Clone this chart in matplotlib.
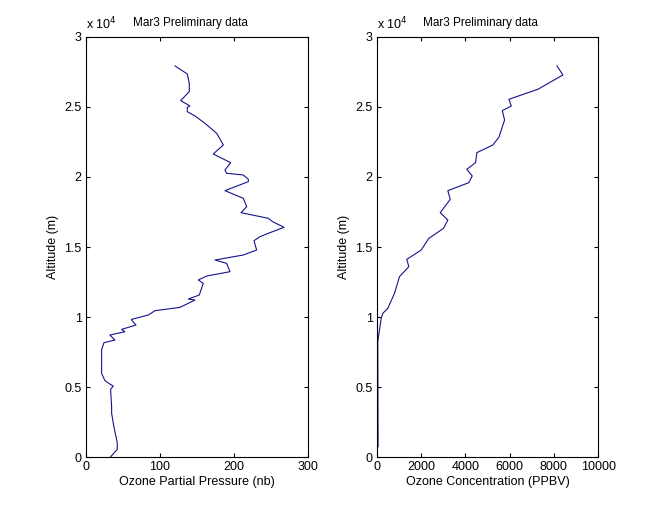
import numpy as np
import matplotlib
matplotlib.use('Agg')
import matplotlib.pyplot as plt

# Sounding data (altitude in m)
pp_alt = [27930, 27357, 26690, 26095, 25452, 25071, 24976, 24666, 24357, 23833,
          23119, 22286, 21643, 21021, 20500, 20264, 20143, 19833, 19667, 19024,
          18476, 17881, 17452, 17048, 16809, 16405, 16024, 15738, 15452, 14786,
          14429, 14071, 13833, 13238, 12929, 12643, 12405, 11571, 11286, 11214,
          10690, 10452, 10143, 9833, 9786, 9429, 9119, 8952, 8714, 8357,
          8166, 7643, 5976, 5452, 5214, 5071, 4833, 3595, 3119, 2167,
          1024, 548, 20]
pp_val = [120.3, 136.9, 139.6, 139.6, 128.0, 140.5, 136.9, 136.9, 147.3, 160.8,
          176.6, 185.6, 172.0, 195.5, 187.8, 190.0, 212.6, 219.4, 219.4, 187.8,
          212.6, 217.2, 209.5, 246.4, 252.2, 267.6, 248.6, 235.1, 227.0, 230.6,
          212.6, 174.3, 190.0, 194.6, 163.1, 151.8, 158.5, 153.1, 138.3, 147.3,
          127.0, 93.2, 84.2, 61.7, 61.7, 67.6, 48.2, 52.7, 32.4, 39.2,
          24.3, 21.2, 21.2, 25.7, 32.4, 36.9, 33.3, 34.7, 34.7, 37.8,
          42.3, 42.3, 33.3]

conc_alt = [27930, 27286, 26262, 25548, 25071, 24738, 24071, 22833, 22286, 21738,
            21021, 20550, 20071, 19595, 19024, 18405, 17452, 16929, 16333, 15619,
            14786, 14119, 13595, 12881, 11690, 10619, 10262, 9905, 8238, 738]
conc_val = [8136, 8407, 7277, 5966, 6075, 5668, 5772, 5514, 5243, 4520,
            4461, 4068, 4312, 4158, 3209, 3318, 2866, 3209, 3015, 2350,
            2007, 1356, 1446, 1026, 800, 497, 271, 199, 45, 60]

yticks = [0, 5000, 10000, 15000, 20000, 25000, 30000]
ytick_labels = ['0', '0.5', '1', '1.5', '2', '2.5', '3']

plt.rcParams['font.family'] = ['Liberation Sans', 'DejaVu Sans']
plt.rcParams['font.size'] = 9

fig = plt.figure(figsize=(6.61, 5.13), dpi=100)
ax1 = fig.add_axes([0.130, 0.109, 0.336, 0.819])
ax2 = fig.add_axes([0.570, 0.109, 0.335, 0.819])

line_color = '#14148c'

panels = [
	(ax1, pp_val, pp_alt, [0, 300], [0, 100, 200, 300], 'Ozone Partial Pressure (nb)'),
	(ax2, conc_val, conc_alt, [0, 10000], [0, 2000, 4000, 6000, 8000, 10000], 'Ozone Concentration (PPBV)'),
]

for ax, xv, yv, xlim, xticks, xlabel in panels:
	ax.plot(xv, yv, color=line_color, linewidth=0.8)
	ax.set_xlim(xlim)
	ax.set_ylim(0, 30000)
	ax.set_xticks(xticks)
	ax.set_xticklabels([str(t) for t in xticks])
	ax.set_yticks(yticks)
	ax.set_yticklabels(ytick_labels)
	ax.tick_params(direction='in', length=3, width=0.8, top=True, right=True, pad=3)
	for s in ax.spines.values():
		s.set_linewidth(0.8)
	ax.set_xlabel(xlabel, labelpad=2)
	ax.set_ylabel('Altitude (m)', labelpad=4)
	# title sits a bit left of centre in the original
	ax.text(0.47, 1.02, 'Mar3 Preliminary data', transform=ax.transAxes, ha='center', va='bottom', fontsize=8.5)
	ax.text(0.0, 1.012, 'x 10$^4$', transform=ax.transAxes, ha='left', va='bottom', fontsize=9)

plt.savefig('out.png', dpi=100)
